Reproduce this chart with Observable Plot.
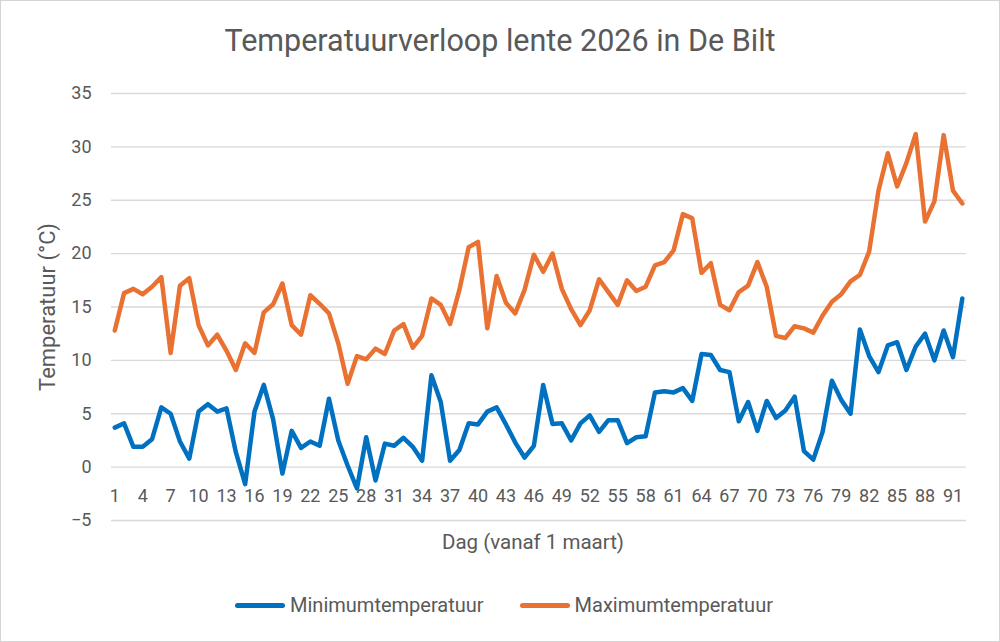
<!DOCTYPE html>
<html>
<head>
<meta charset="utf-8">
<script src="https://cdn.jsdelivr.net/npm/d3@7"></script>
<script src="https://cdn.jsdelivr.net/npm/@observablehq/plot@0.6"></script>
<style>
  html, body { margin: 0; padding: 0; background: #fff; }
  #chart { position: relative; width: 1000px; height: 642px; overflow: hidden;
           font-family: Roboto, "Open Sans", sans-serif; color: #595959; }
  #frame { position: absolute; left: 0; top: 0; width: 1000px; height: 642px;
           box-sizing: border-box; border: 1px solid #d4d4d4; pointer-events: none; }
  #title { position: absolute; top: 22px; left: 0; width: 1000px; text-align: center;
           font-size: 30.5px; line-height: 38px; }
  #plot { position: absolute; top: 70px; left: 0; }
  #legend { position: absolute; top: 592px; left: 4px; width: 1000px; display: flex;
            justify-content: center; align-items: center; gap: 36px; font-size: 20px; line-height: 26px; }
  .item { display: flex; align-items: center; }
  .swatch { display: inline-block; width: 50px; height: 5px; border-radius: 3px; margin-right: 5px; }
</style>
</head>
<body>
<div id="chart">
  <div id="title">Temperatuurverloop lente 2026 in De Bilt</div>
  <div id="plot"></div>
  <div id="legend"></div>
  <div id="frame"></div>
</div>
<script>
// Daily minimum and maximum temperatures (°C), day 1 = 1 March
const minTemp = [
  3.7, 4.1, 1.9, 1.9, 2.6, 5.6, 5.0, 2.4, 0.8, 5.2,
  5.9, 5.2, 5.5, 1.4, -1.6, 5.2, 7.7, 4.5, -0.6, 3.4,
  1.8, 2.4, 2.0, 6.4, 2.5, 0.15, -2.0, 2.8, -1.25, 2.2,
  2.0, 2.75, 1.9, 0.6, 8.6, 6.1, 0.6, 1.6, 4.1, 4.0,
  5.2, 5.6, 4.0, 2.3, 0.9, 2.0, 7.7, 4.05, 4.1, 2.5,
  4.1, 4.85, 3.3, 4.4, 4.4, 2.25, 2.8, 2.9, 7.0, 7.1,
  7.0, 7.4, 6.2, 10.6, 10.5, 9.1, 8.9, 4.3, 6.1, 3.4,
  6.2, 4.6, 5.3, 6.6, 1.5, 0.7, 3.3, 8.1, 6.3, 5.0,
  12.9, 10.4, 8.9, 11.4, 11.7, 9.1, 11.3, 12.5, 10.0, 12.8, 10.3, 15.8
];
const maxTemp = [
  12.8, 16.3, 16.7, 16.2, 16.9, 17.8, 10.7, 17.0, 17.7, 13.3,
  11.4, 12.4, 10.9, 9.1, 11.6, 10.7, 14.5, 15.25, 17.2, 13.3,
  12.4, 16.1, 15.3, 14.4, 11.6, 7.8, 10.4, 10.1, 11.1, 10.6,
  12.8, 13.4, 11.2, 12.3, 15.8, 15.2, 13.4, 16.6, 20.6, 21.1,
  13.0, 17.9, 15.4, 14.4, 16.6, 19.9, 18.3, 20.0, 16.7, 14.8,
  13.3, 14.7, 17.6, 16.4, 15.2, 17.5, 16.5, 16.9, 18.9, 19.2,
  20.3, 23.7, 23.3, 18.2, 19.1, 15.2, 14.7, 16.4, 17.0, 19.2,
  16.9, 12.3, 12.1, 13.2, 13.0, 12.6, 14.2, 15.5, 16.2, 17.4,
  18.0, 20.2, 25.9, 29.4, 26.3, 28.5, 31.2, 23.0, 24.9, 31.1, 25.9, 24.7
];
const days = d3.range(1, minTemp.length + 1);
const dayTicks = d3.range(1, 92, 3);          // 1, 4, 7, ..., 91
const tempTicks = d3.range(-5, 36, 5);        // -5 ... 35

const seriesNames = ["Minimumtemperatuur", "Maximumtemperatuur"];
const seriesColors = ["#0070C0", "#E97132"];

const minRows = days.map((d, i) => ({ day: d, temp: minTemp[i] }));
const maxRows = days.map((d, i) => ({ day: d, temp: maxTemp[i] }));

const textColor = "#595959";
const lineStyle = { x: "day", y: "temp", strokeWidth: 4.5, strokeLinejoin: "round", strokeLinecap: "round" };

const chart = Plot.plot({
  width: 1000,
  height: 500,
  marginTop: 23,
  marginBottom: 50,
  marginLeft: 111,
  marginRight: 34,
  x: { domain: [0.65, 92.45], axis: null },
  y: { domain: [-5, 35] },
  style: { fontFamily: "Roboto, 'Open Sans', sans-serif", color: textColor, background: "transparent", overflow: "visible" },
  marks: [
    Plot.gridY(tempTicks, { stroke: "#d9d9d9", strokeOpacity: 1, strokeWidth: 1.3 }),
    Plot.axisY(tempTicks, { tickSize: 0, tickPadding: 20, fontSize: 18, label: null, fill: textColor }),
    // day labels sit just under the 0 °C line, where the category axis crosses
    Plot.text(dayTicks, { x: d => d, y: () => 0, dy: 29, fontSize: 18, fill: textColor }),
    Plot.text(["Temperatuur (°C)"], { frameAnchor: "left", textAnchor: "middle", lineAnchor: "middle", rotate: -90, dx: -64, fontSize: 22, fill: textColor }),
    Plot.text(["Dag (vanaf 1 maart)"], { frameAnchor: "bottom", textAnchor: "middle", lineAnchor: "middle", dy: 22, dx: -6, fontSize: 20.5, fill: textColor }),
    Plot.line(minRows, { ...lineStyle, stroke: seriesColors[0] }),
    Plot.line(maxRows, { ...lineStyle, stroke: seriesColors[1] })
  ]
});
document.getElementById("plot").appendChild(chart);

// Legend below the chart
const legend = document.getElementById("legend");
seriesNames.forEach((name, i) => {
  const item = document.createElement("div");
  item.className = "item";
  const sw = document.createElement("span");
  sw.className = "swatch";
  sw.style.background = seriesColors[i];
  const label = document.createElement("span");
  label.textContent = name;
  item.appendChild(sw);
  item.appendChild(label);
  legend.appendChild(item);
});
</script>
</body>
</html>
